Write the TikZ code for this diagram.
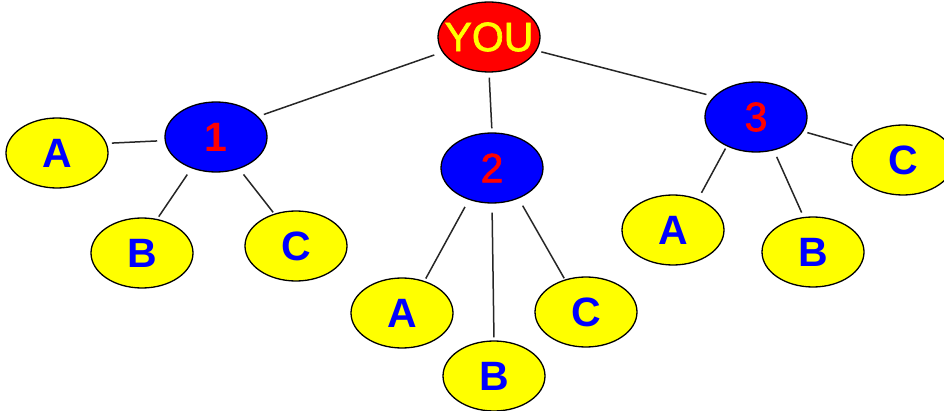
\documentclass[tikz,border=0pt]{standalone}
\usepackage{fontspec}
\setmainfont{Liberation Sans}
\newfontfamily\medfont[FakeBold=1.6]{Liberation Sans}
\usetikzlibrary{shapes.geometric}
\definecolor{yel}{RGB}{255,255,0}
\definecolor{blu}{RGB}{0,0,255}
\definecolor{rd}{RGB}{255,0,0}
\newcommand{\zb}[1]{\makebox[0pt][c]{#1}}
\begin{document}
\begin{tikzpicture}[x=1pt,y=-1pt,
  oval/.style={ellipse,draw=black,line width=1.3pt,minimum width=102pt,minimum height=70pt,inner sep=0pt,font=\fontsize{41}{44}\medfont},
  topnode/.style={oval,fill=rd,text=yel},
  midnode/.style={oval,fill=blu,text=rd},
  leaf/.style={oval,fill=yel,text=blu,font=\fontsize{41}{44}\selectfont\bfseries},
  link/.style={draw=black!85,line width=1.5pt}]
\useasboundingbox (0,0) rectangle (944,411);
\node[topnode] (you) at (489,37) {\zb{YOU}};
\node[midnode,font=\fontsize{41}{44}\selectfont\bfseries] (n1) at (216,137) {\zb{1}};
\node[midnode] (n2) at (492,168) {\zb{2}};
\node[midnode] (n3) at (756,117) {\zb{3}};
\node[leaf] (a1) at (57,153) {\zb{A}};
\node[leaf] (b1) at (142,253) {\zb{B}};
\node[leaf] (c1) at (296,246) {\zb{C}};
\node[leaf] (a2) at (402,313) {\zb{A}};
\node[leaf] (b2) at (494,376) {\zb{B}};
\node[leaf] (c2) at (586,312) {\zb{C}};
\node[leaf] (a3) at (673,230) {\zb{A}};
\node[leaf] (b3) at (813,252) {\zb{B}};
\node[leaf] (c3) at (903,160) {\zb{C}};
\draw[link,shorten <=8.5pt,shorten >=6pt] (you.198.4) -- (n1.26.1);
\draw[link,shorten <=5pt,shorten >=4pt] (you.south) -- (n2.north);
\draw[link,shorten <=4.8pt,shorten >=7.6pt] (you.344.9) -- (n3.154.9);
\draw[link,shorten <=7.4pt,shorten >=5.2pt] (n1.184.9) -- (a1.11.5);
\draw[link,shorten <=7.5pt,shorten >=2.8pt] (n1.232.9) -- (b1.66);
\draw[link,shorten <=7.1pt,shorten >=1.7pt] (n1.306.1) -- (c1.124.9);
\draw[link,shorten <=8pt,shorten >=2.7pt] (n2.234.6) -- (a2.55.9);
\draw[link,shorten <=9pt,shorten >=3pt] (n2.south) -- (b2.north);
\draw[link,shorten <=8.2pt,shorten >=1.4pt] (n2.311.6) -- (c2.123.7);
\draw[link,shorten <=2.5pt,shorten >=6.9pt] (n3.225.9) -- (a3.51.1);
\draw[link,shorten <=7pt,shorten >=4.8pt] (n3.298.3) -- (b3.105.8);
\draw[link,shorten <=4.3pt,shorten >=2.9pt] (n3.343.6) -- (c3.164.4);
\end{tikzpicture}
\end{document}
